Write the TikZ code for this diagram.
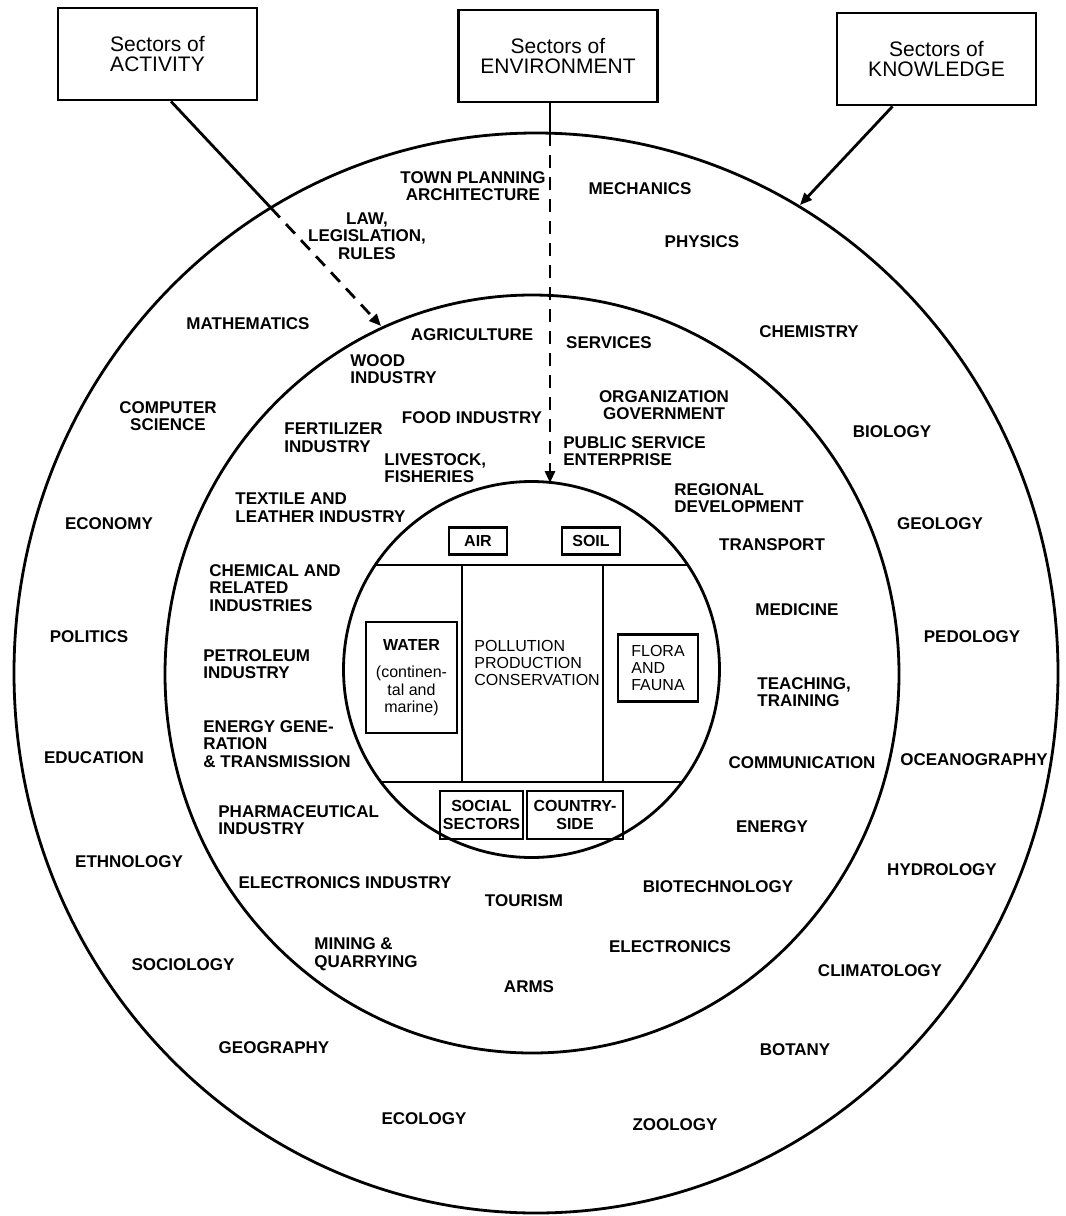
\documentclass[tikz,border=0pt]{standalone}
\usepackage{fontspec}
\setmainfont{Liberation Sans}
\usetikzlibrary{arrows.meta}

\newcommand{\lblfont}{\fontsize{8.5}{8.8}\selectfont\bfseries}
\newcommand{\sectfont}{\fontsize{10.5}{10}\selectfont}
\newcommand{\cellfont}{\fontsize{8}{8.7}\selectfont}

\tikzset{
  sectorbox/.style={draw, line width=1.4pt, minimum width=99.5pt, minimum height=46pt, align=center, font=\sectfont},
  lbl/.style={font=\lblfont, align=center, inner sep=0pt},
  lbll/.style={lbl, align=left, anchor=west},
  cell/.style={draw, line width=1.3pt, font=\cellfont, inner sep=1pt},
  tip/.style={-{Triangle[length=6pt,width=5pt]}},
  dash line/.style={dash pattern=on 6.5pt off 4.5pt}
}

\begin{document}
\begin{tikzpicture}[x=0.5pt, y=-0.5pt, line width=1.4pt]
  \useasboundingbox (0,0) rectangle (1066,1216);

  % the three rings
  \draw (536,673) ellipse [x radius=261pt, y radius=270pt];
  \draw (532,674) ellipse [x radius=183.5pt, y radius=189.5pt];
  \draw (531.5,669.5) circle [radius=94pt];

  % inner circle divisions
  \begin{scope}
    \clip (531.5,669.5) circle [radius=94pt];
    \draw (300,565) -- (760,565);
    \draw (300,782) -- (760,782);
  \end{scope}
  \draw (462,565) -- (462,782);
  \draw (603,565) -- (603,782);

  % sectors boxes
  \node[sectorbox] (act) at (157.5,54) {Sectors of\\ACTIVITY};
  \node[sectorbox] (env) at (558,56) {Sectors of\\ENVIRONMENT};
  \node[sectorbox] (kno) at (936.5,59) {Sectors of\\KNOWLEDGE};

  \coordinate (actcut) at (271,208);
  \coordinate (actend) at (381,326);
  \coordinate (envcut) at (550,133);
  \coordinate (envend) at (550,483);
  \coordinate (knocut) at (800,205);

  \draw ([xshift=6.75pt]act.south) -- (actcut);
  \draw[dash line, tip] (actcut) -- (actend);
  \draw ([xshift=-4pt]env.south) -- (envcut);
  \draw[dash line, tip] (envcut) -- (envend);
  \draw[tip] ([xshift=-22pt]kno.south) -- (knocut);

  % outer ring: knowledge
  \node[lbl] (town) at (473,186) {TOWN PLANNING\\ARCHITECTURE};
  \node[lbl] (mech) at (640,189) {MECHANICS};
  \node[lbl] (law) at (367,236) {LAW,\\LEGISLATION,\\RULES};
  \node[lbl] (phys) at (702,242) {PHYSICS};
  \node[lbl] (math) at (248,324) {MATHEMATICS};
  \node[lbl] (chem) at (809,332) {CHEMISTRY};
  \node[lbl] (comp) at (168,416) {COMPUTER\\SCIENCE};
  \node[lbl] (bio) at (892,432) {BIOLOGY};
  \node[lbl] (econ) at (109,524) {ECONOMY};
  \node[lbl] (geol) at (940,524) {GEOLOGY};
  \node[lbl] (pol) at (89,637) {POLITICS};
  \node[lbl] (ped) at (972,637) {PEDOLOGY};
  \node[lbl] (edu) at (94,758) {EDUCATION};
  \node[lbl] (ocean) at (974,760) {OCEANOGRAPHY};
  \node[lbl] (ethn) at (129,862) {ETHNOLOGY};
  \node[lbl] (hydro) at (942,870) {HYDROLOGY};
  \node[lbl] (socio) at (183,965) {SOCIOLOGY};
  \node[lbl] (clim) at (880,971) {CLIMATOLOGY};
  \node[lbl] (geog) at (274,1048) {GEOGRAPHY};
  \node[lbl] (bot) at (795,1050) {BOTANY};
  \node[lbl] (ecol) at (424,1119) {ECOLOGY};
  \node[lbl] (zool) at (675,1125) {ZOOLOGY};

  % middle ring: activity
  \node[lbl] (agri) at (472,335) {AGRICULTURE};
  \node[lbl] (serv) at (609,343) {SERVICES};
  \node[lbll] (wood) at (349,369) {WOOD\\INDUSTRY};
  \node[lbl] (org) at (664,405) {ORGANIZATION\\GOVERNMENT};
  \node[lbl] (food) at (472,418) {FOOD INDUSTRY};
  \node[lbll] (fert) at (283,438) {FERTILIZER\\INDUSTRY};
  \node[lbll] (pub) at (562,451) {PUBLIC SERVICE\\ENTERPRISE};
  \node[lbll] (live) at (383,468) {LIVESTOCK,\\FISHERIES};
  \node[lbll] (reg) at (673,498) {REGIONAL\\DEVELOPMENT};
  \node[lbll] (textl) at (234,508) {TEXTILE AND\\LEATHER INDUSTRY};
  \node[lbl] (trans) at (772,545) {TRANSPORT};
  \node[lbll] (chemind) at (208,588) {CHEMICAL AND\\RELATED\\INDUSTRIES};
  \node[lbl] (med) at (797,610) {MEDICINE};
  \node[lbll] (petro) at (202,664) {PETROLEUM\\INDUSTRY};
  \node[lbll] (teach) at (756,692) {TEACHING,\\TRAINING};
  \node[lbll] (energen) at (202,744) {ENERGY GENE-\\RATION\\\& TRANSMISSION};
  \node[lbl] (comm) at (802,763) {COMMUNICATION};
  \node[lbll] (pharm) at (217,820) {PHARMACEUTICAL\\INDUSTRY};
  \node[lbl] (energy) at (772,827) {ENERGY};
  \node[lbl] (elind) at (345,883) {ELECTRONICS INDUSTRY};
  \node[lbl] (biot) at (718,887) {BIOTECHNOLOGY};
  \node[lbl] (tour) at (524,901) {TOURISM};
  \node[lbl] (elec) at (670,947) {ELECTRONICS};
  \node[lbll] (mining) at (313,954) {MINING \&\\QUARRYING};
  \node[lbl] (arms) at (529,987) {ARMS};

  % inner circle: environment
  \node[cell, minimum width=29pt, minimum height=13.5pt, font=\cellfont\bfseries] (air) at (478,541) {AIR};
  \node[cell, minimum width=29pt, minimum height=13.5pt, font=\cellfont\bfseries] (soil) at (591,541) {SOIL};
  \node[cell, minimum width=45.5pt, minimum height=55.5pt, align=center] (water) at (411.5,677.5)
    {\textbf{WATER}\\[5pt](continen-\\tal and\\marine)};
  \node[font=\cellfont, align=left, anchor=west, inner sep=0pt] (poll) at (473,663)
    {POLLUTION\\PRODUCTION\\CONSERVATION};
  \node[cell, minimum width=40pt, minimum height=33.5pt, align=left] (flora) at (658,668)
    {FLORA\\AND\\FAUNA};
  \node[cell, minimum width=41.5pt, minimum height=24pt, align=center, font=\cellfont\bfseries] (social) at (481.5,815)
    {SOCIAL\\SECTORS};
  \node[cell, minimum width=48pt, minimum height=24pt, align=center, font=\cellfont\bfseries] (country) at (575,815)
    {COUNTRY-\\SIDE};
\end{tikzpicture}
\end{document}
